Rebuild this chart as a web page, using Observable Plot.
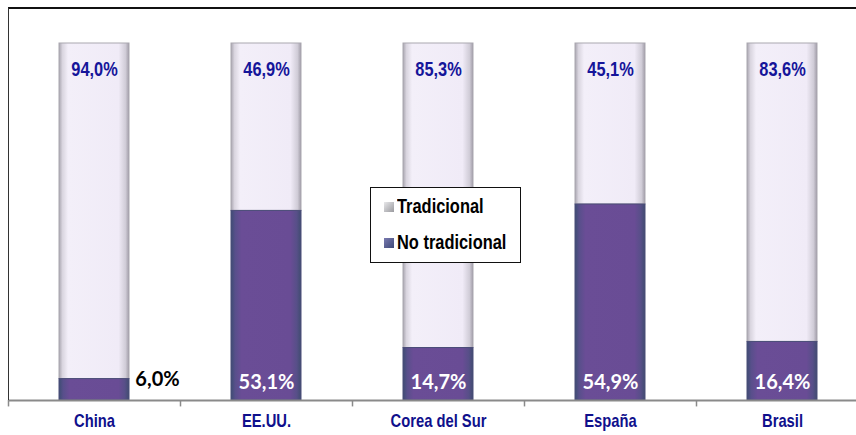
<!DOCTYPE html>
<html>
<head>
<meta charset="utf-8">
<script src="https://cdn.jsdelivr.net/npm/d3@7"></script>
<script src="https://cdn.jsdelivr.net/npm/@observablehq/plot@0.6"></script>
<style>
  body { margin: 0; background: #fff; }
  #wrap { position: relative; width: 856px; height: 435px; overflow: hidden; background:#fff; }
  #frame { position: absolute; left: 8px; top: 7px; width: 860px; height: 393px;
           border-top: 2px solid #111; border-left: 1px solid #333; box-sizing: border-box; pointer-events: none; }
  #legend { position: absolute; left: 370px; top: 187px; width: 151px; height: 76px; box-sizing: border-box;
            border: 1.5px solid #111; background: #fff;
            font-family: "Liberation Sans", Arial, sans-serif;
            font-weight: bold; font-size: 20px; color: #000; }
  .item { position: absolute; left: 13px; display: flex; align-items: center; white-space: nowrap; }
  .sw { width: 10px; height: 10px; margin-right: 3px; }
  .lbl { display: inline-block; transform: scaleX(0.82); transform-origin: left center; }
</style>
</head>
<body>
<div id="wrap">
  <div id="chart"></div>
  <div id="frame"></div>
  <div id="legend"></div>
</div>
<script>
const categories = ["China", "EE.UU.", "Corea del Sur", "España", "Brasil"];
const noTradicional = [6.0, 53.1, 14.7, 54.9, 16.4];
const tradicional = [94.0, 46.9, 85.3, 45.1, 83.6];
const seriesNames = ["Tradicional", "No tradicional"];

const rows = categories.map((c, i) => ({
  cat: c,
  nt: noTradicional[i],
  tr: tradicional[i],
  ntLabel: noTradicional[i].toFixed(1).replace(".", ",") + "%",
  trLabel: tradicional[i].toFixed(1).replace(".", ",") + "%"
}));
const inside = rows.filter(d => d.nt >= 10);
const outside = rows.filter(d => d.nt < 10);

const narrow = "'Liberation Sans', Arial, sans-serif";

const chart = Plot.plot({
  width: 856,
  height: 435,
  marginLeft: 8,
  marginRight: 0,
  marginTop: 0,
  marginBottom: 0,
  x: { type: "band", domain: categories, range: [8, 868], padding: 0, axis: null },
  y: { domain: [0, 100], range: [400, 43], axis: null },
  style: { background: "transparent", overflow: "visible" },
  marks: [
    Plot.barY(rows, { x: "cat", y1: "nt", y2: d => d.nt + d.tr, insetLeft: 51, insetRight: 51,
      fill: "url(#lightGrad)", stroke: "#aaa7b0", strokeWidth: 1 }),
    Plot.barY(rows, { x: "cat", y1: 0, y2: "nt", insetLeft: 51, insetRight: 51,
      fill: "url(#darkGrad)", stroke: "#4b4d78", strokeWidth: 1 }),
    Plot.ruleY([0], { stroke: "#8a8a8a", strokeWidth: 2 }),
    Plot.ruleX(categories, { x: d => d, dx: -86, y1: 0, y2: -1.8, stroke: "#8a8a8a", strokeWidth: 1.5 }),
    Plot.text(rows, { x: "cat", y: d => d.nt + d.tr, dy: 26, text: "trLabel", fill: "#15159a",
      fontWeight: "bold", fontSize: 20, fontFamily: narrow }),
    Plot.text(inside, { x: "cat", y: 0, dy: -18, text: "ntLabel", fill: "#ffffff",
      fontWeight: "bold", fontSize: 20, fontFamily: "Lato, 'Open Sans', sans-serif" }),
    Plot.text(outside, { x: "cat", y: 0, dx: 63, dy: -21, text: "ntLabel", fill: "#000000",
      fontWeight: "bold", fontSize: 20, fontFamily: "Lato, 'Open Sans', sans-serif" }),
    Plot.text(categories, { x: d => d, y: 0, dy: 21, text: d => d, fill: "#10108c",
      fontWeight: "bold", fontSize: 18, fontFamily: narrow })
  ]
});

// condense the Arial-Narrow-like labels
d3.select(chart).selectAll("g[font-family*='Liberation'] text").attr("transform", function () {
  return (this.getAttribute("transform") || "") + " scale(0.82,1)";
});
d3.select(chart).insert("defs", ":first-child").html(`
  <linearGradient id="lightGrad" x1="0" x2="1" y1="0" y2="0">
    <stop offset="0" stop-color="#a9a6b0"/>
    <stop offset="0.05" stop-color="#d9d5df"/>
    <stop offset="0.13" stop-color="#f3eff9"/>
    <stop offset="0.85" stop-color="#f0ebf7"/>
    <stop offset="0.95" stop-color="#d0ccd7"/>
    <stop offset="1" stop-color="#a19da8"/>
  </linearGradient>
  <linearGradient id="darkGrad" x1="0" x2="1" y1="0" y2="0">
    <stop offset="0" stop-color="#3e4d73"/>
    <stop offset="0.06" stop-color="#584f8b"/>
    <stop offset="0.15" stop-color="#6a4d96"/>
    <stop offset="0.85" stop-color="#694c95"/>
    <stop offset="0.94" stop-color="#574f88"/>
    <stop offset="1" stop-color="#404c70"/>
  </linearGradient>
`);
document.getElementById("chart").appendChild(chart);

const legend = document.getElementById("legend");
const swatches = ["linear-gradient(135deg,#e8e8ea,#9a9a9f)", "linear-gradient(135deg,#7a7ab0,#3e4a78)"];
seriesNames.forEach((name, i) => {
  const it = document.createElement("div");
  it.className = "item";
  it.style.top = (i === 0 ? 7 : 43) + "px";
  const sw = document.createElement("span");
  sw.className = "sw";
  sw.style.background = swatches[i];
  it.appendChild(sw);
  const t = document.createElement("span");
  t.className = "lbl";
  t.textContent = name;
  it.appendChild(t);
  legend.appendChild(it);
});
</script>
</body>
</html>
